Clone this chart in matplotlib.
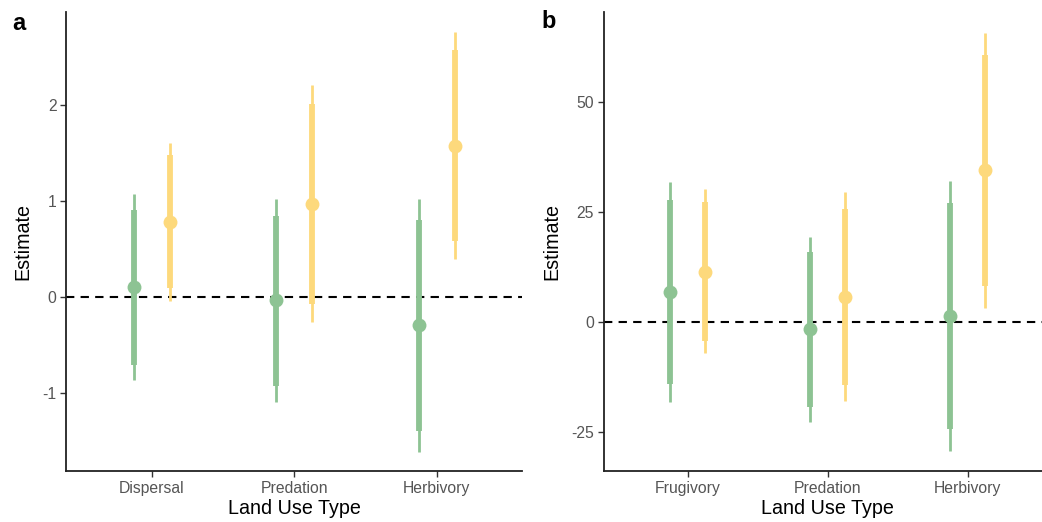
import matplotlib
matplotlib.use("Agg")
import matplotlib.pyplot as plt
import numpy as np

plt.rcParams['font.family'] = ['Liberation Sans', 'DejaVu Sans']

# Panel a data
cats_a = ["Dispersal", "Predation", "Herbivory"]
a_green_est = [0.11, -0.03, -0.29]
a_green_lo66 = [-0.71, -0.92, -1.39]
a_green_hi66 = [0.91, 0.85, 0.80]
a_green_lo95 = [-0.865, -1.09, -1.61]
a_green_hi95 = [1.07, 1.02, 1.02]
a_yellow_est = [0.785, 0.975, 1.576]
a_yellow_lo66 = [0.10, -0.066, 0.59]
a_yellow_hi66 = [1.48, 2.01, 2.57]
a_yellow_lo95 = [-0.04, -0.26, 0.40]
a_yellow_hi95 = [1.61, 2.21, 2.76]

# Panel b data
cats_b = ["Frugivory", "Predation", "Herbivory"]
b_green_est = [6.8, -1.6, 1.5]
b_green_lo66 = [-14.1, -19.2, -24.3]
b_green_hi66 = [27.8, 15.9, 27.0]
b_green_lo95 = [-18.2, -22.6, -29.3]
b_green_hi95 = [31.8, 19.4, 32.0]
b_yellow_est = [11.5, 5.8, 34.5]
b_yellow_lo66 = [-4.2, -14.2, 8.3]
b_yellow_hi66 = [27.3, 25.8, 60.7]
b_yellow_lo95 = [-7.0, -18.0, 3.2]
b_yellow_hi95 = [30.2, 29.7, 65.8]

a_yticks = [-1, 0, 1, 2]
b_yticks = [-25, 0, 25, 50]

GREEN = "#8dc393"
YELLOW = "#fdd97c"

W, H = 1042, 522
fig = plt.figure(figsize=(W / 100, H / 100), dpi=100)

def px_axes(left, top, right, bottom):
    return fig.add_axes([left / W, 1 - bottom / H, (right - left) / W, (bottom - top) / H])

ax_a = px_axes(66.2, 12, 522.2, 471)
ax_b = px_axes(603.7, 12, 1051.7, 471)

def draw(ax, cats, series, ylim, yticks):
    x = np.arange(1, len(cats) + 1)
    ax.axhline(0, color="black", lw=1.5, ls=(0, (4, 3.0)), zorder=1)
    for (est, lo66, hi66, lo95, hi95, col, off) in series:
        xs = x + off
        ax.vlines(xs, lo95, hi95, color=col, lw=2.0, zorder=2)
        ax.vlines(xs, lo66, hi66, color=col, lw=4.2, zorder=3)
        ax.plot(xs, est, "o", color=col, ms=10, mec="none", zorder=4)
    ax.set_xlim(0.4, len(cats) + 0.6)
    ax.set_ylim(*ylim)
    ax.set_xticks(x)
    ax.set_xticklabels(cats)
    ax.set_yticks(yticks)
    ax.set_yticklabels([str(t) for t in yticks])
    for s in ["top", "right"]:
        ax.spines[s].set_visible(False)
    for s in ["left", "bottom"]:
        ax.spines[s].set_linewidth(1.3)
        ax.spines[s].set_color("#222222")
    ax.tick_params(axis="both", length=4, width=1.0, color="#333333",
                   labelcolor="#555555", labelsize=11.3, pad=3)
    ax.set_xlabel("Land Use Type", fontsize=14.2, color="black", labelpad=2)
    ax.set_ylabel("Estimate", fontsize=14.2, color="black", labelpad=7)

draw(ax_a, cats_a, [
    (a_green_est, a_green_lo66, a_green_hi66, a_green_lo95, a_green_hi95, GREEN, -0.125),
    (a_yellow_est, a_yellow_lo66, a_yellow_hi66, a_yellow_lo95, a_yellow_hi95, YELLOW, 0.125),
], (-1.81, 2.97), a_yticks)

draw(ax_b, cats_b, [
    (b_green_est, b_green_lo66, b_green_hi66, b_green_lo95, b_green_hi95, GREEN, -0.125),
    (b_yellow_est, b_yellow_lo66, b_yellow_hi66, b_yellow_lo95, b_yellow_hi95, YELLOW, 0.125),
], (-33.8, 70.5), b_yticks)

fig.text(12 / W, 1 - 23 / H, "a", fontsize=17, fontweight="bold", va="center", ha="left")
fig.text(541 / W, 1 - 21 / H, "b", fontsize=17, fontweight="bold", va="center", ha="left")

fig.savefig("out.png", dpi=100)
